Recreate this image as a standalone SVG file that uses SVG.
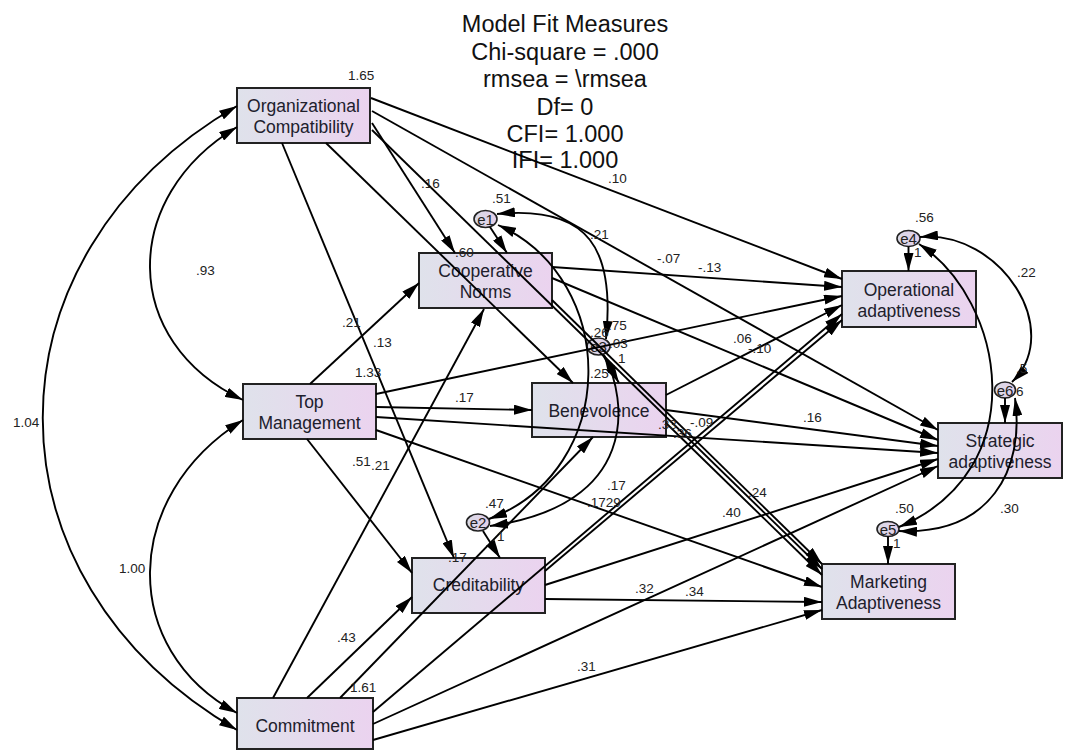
<svg xmlns="http://www.w3.org/2000/svg" width="1065" height="751" viewBox="0 0 1065 751">
  <defs>
    <linearGradient id="fillBox" x1="0" y1="0" x2="1" y2="0">
      <stop offset="0" stop-color="#dfe2eb"/>
      <stop offset="1" stop-color="#ebd3ef"/>
    </linearGradient>
    <linearGradient id="fillErr" x1="0" y1="0" x2="1" y2="0">
      <stop offset="0" stop-color="#d9dae6"/>
      <stop offset="1" stop-color="#e3cfe9"/>
    </linearGradient>
    <marker id="ah" viewBox="0 0 18 10" refX="18" refY="5" markerWidth="18" markerHeight="10" markerUnits="userSpaceOnUse" orient="auto-start-reverse">
      <path d="M0,0 L18,5 L0,10 z" fill="#000"/>
    </marker>
    <style>
      .box { fill: url(#fillBox); stroke: #222; stroke-width: 2; }
      .err { fill: url(#fillErr); stroke: #222; stroke-width: 1.6; }
      .name { font-family: "Liberation Sans", Arial, sans-serif; font-size: 17.5px; fill: #20202c; text-anchor: middle; }
      .ename { font-family: "Liberation Sans", Arial, sans-serif; font-size: 15px; fill: #222; text-anchor: middle; }
      .num { font-family: "Liberation Sans", Arial, sans-serif; font-size: 13.5px; fill: #222; }
      .title { font-family: "Liberation Sans", Arial, sans-serif; font-size: 23.5px; fill: #111; text-anchor: middle; }
      .p { stroke: #000; stroke-width: 1.9; fill: none; marker-end: url(#ah); }
      .c { stroke: #000; stroke-width: 1.9; fill: none; marker-start: url(#ah); marker-end: url(#ah); }
    </style>
  </defs>

  <rect width="1065" height="751" fill="#fff"/>

  <!-- fit summary -->
  <g id="fit-summary">
    <text class="title" x="565" y="32">Model Fit Measures</text>
    <text class="title" x="565" y="60">Chi-square = .000</text>
    <text class="title" x="565" y="87">rmsea = \rmsea</text>
    <text class="title" x="565" y="115">Df= 0</text>
    <text class="title" x="565" y="142">CFI= 1.000</text>
    <text class="title" x="565" y="168">IFI= 1.000</text>
  </g>

  <!-- observed variables -->
  <g id="org-compat">
    <rect class="box" x="237" y="88" width="133" height="55"/>
    <text class="name" x="303.5" y="112">Organizational</text>
    <text class="name" x="303.5" y="133">Compatibility</text>
  </g>
  <g id="coop-norms">
    <rect class="box" x="419" y="253" width="133" height="55"/>
    <text class="name" x="485.5" y="277">Cooperative</text>
    <text class="name" x="485.5" y="298">Norms</text>
  </g>
  <g id="top-mgmt">
    <rect class="box" x="243" y="384" width="133" height="55"/>
    <text class="name" x="309.5" y="408">Top</text>
    <text class="name" x="309.5" y="429">Management</text>
  </g>
  <g id="benevolence">
    <rect class="box" x="532" y="383" width="134" height="54"/>
    <text class="name" x="599" y="417">Benevolence</text>
  </g>
  <g id="creditability">
    <rect class="box" x="412" y="558" width="133" height="55"/>
    <text class="name" x="478.5" y="591">Creditability</text>
  </g>
  <g id="commitment">
    <rect class="box" x="237" y="698" width="136" height="51"/>
    <text class="name" x="305" y="732">Commitment</text>
  </g>
  <g id="operational">
    <rect class="box" x="842" y="271" width="134" height="56"/>
    <text class="name" x="909" y="296">Operational</text>
    <text class="name" x="909" y="317">adaptiveness</text>
  </g>
  <g id="strategic">
    <rect class="box" x="938" y="423" width="124" height="55"/>
    <text class="name" x="1000" y="447">Strategic</text>
    <text class="name" x="1000" y="468">adaptiveness</text>
  </g>
  <g id="marketing">
    <rect class="box" x="822" y="564" width="133" height="55"/>
    <text class="name" x="888.5" y="588">Marketing</text>
    <text class="name" x="888.5" y="609">Adaptiveness</text>
  </g>

  <!-- error terms -->
  <g id="e1">
    <ellipse class="err" cx="485.5" cy="219" rx="11.5" ry="8.5"/>
    <text class="ename" x="485.5" y="224.5">e1</text>
  </g>
  <g id="e3">
    <ellipse class="err" cx="598.5" cy="346.5" rx="11.5" ry="8.5"/>
    <text class="ename" x="598.5" y="352">e3</text>
  </g>
  <g id="e2">
    <ellipse class="err" cx="478" cy="522.5" rx="11.5" ry="8.5"/>
    <text class="ename" x="478" y="528">e2</text>
  </g>
  <g id="e4">
    <ellipse class="err" cx="908.5" cy="238.5" rx="11.5" ry="8"/>
    <text class="ename" x="908.5" y="244">e4</text>
  </g>
  <g id="e6">
    <ellipse class="err" cx="1005" cy="390" rx="10.5" ry="8"/>
    <text class="ename" x="1005" y="395.5">e6</text>
  </g>
  <g id="e5">
    <ellipse class="err" cx="888" cy="529" rx="11" ry="7.5"/>
    <text class="ename" x="888" y="534.5">e5</text>
  </g>

  <!-- paths and covariances -->
  <g id="connectors">
    <!-- from Organizational Compatibility -->
    <line class="p" x1="372" y1="123" x2="455" y2="253"/>
    <line class="p" x1="326" y1="143" x2="573" y2="383"/>
    <line class="p" x1="282" y1="143" x2="454" y2="558"/>
    <line class="p" x1="371" y1="98" x2="842" y2="279"/>
    <line class="p" x1="372" y1="111" x2="938" y2="430"/>
    <line class="p" x1="372" y1="130" x2="822" y2="569"/>
    <!-- from Top Management -->
    <line class="p" x1="310" y1="384" x2="419" y2="283"/>
    <line class="p" x1="376" y1="407" x2="532" y2="410"/>
    <line class="p" x1="307" y1="439" x2="412" y2="573"/>
    <line class="p" x1="376" y1="394" x2="842" y2="296"/>
    <line class="p" x1="376" y1="417" x2="938" y2="453"/>
    <line class="p" x1="376" y1="430" x2="822" y2="587"/>
    <!-- from Commitment -->
    <line class="p" x1="273" y1="698" x2="484" y2="309"/>
    <line class="p" x1="340" y1="698" x2="593" y2="437"/>
    <line class="p" x1="307" y1="698" x2="412" y2="597"/>
    <line class="p" x1="373" y1="712" x2="842" y2="314"/>
    <line class="p" x1="373" y1="724" x2="938" y2="466"/>
    <line class="p" x1="373" y1="740" x2="822" y2="610"/>
    <!-- from Cooperative Norms -->
    <line class="p" x1="552" y1="267" x2="842" y2="287"/>
    <line class="p" x1="552" y1="278" x2="938" y2="440"/>
    <line class="p" x1="552" y1="300" x2="822" y2="564"/>
    <!-- from Benevolence -->
    <line class="p" x1="666" y1="395" x2="842" y2="305"/>
    <line class="p" x1="666" y1="410" x2="938" y2="446"/>
    <line class="p" x1="666" y1="423" x2="822" y2="575"/>
    <!-- from Creditability -->
    <line class="p" x1="545" y1="571" x2="842" y2="320"/>
    <line class="p" x1="545" y1="585" x2="938" y2="459"/>
    <line class="p" x1="545" y1="599" x2="822" y2="602"/>
    <!-- error terms into their variables -->
    <line class="p" x1="490" y1="227" x2="507" y2="253"/>
    <line class="p" x1="603" y1="355" x2="619" y2="383"/>
    <line class="p" x1="483" y1="531" x2="500" y2="558"/>
    <line class="p" x1="908.5" y1="246.5" x2="908.5" y2="271"/>
    <line class="p" x1="1005" y1="398" x2="1005" y2="423"/>
    <line class="p" x1="888" y1="536.5" x2="888" y2="564"/>
    <!-- exogenous covariances -->
    <path class="c" d="M237,106 C-22,256 -22,580 237,730"/>
    <path class="c" d="M237,127 C120,197 120,342 243,400"/>
    <path class="c" d="M243,420 C120,497 120,650 237,713"/>
    <!-- residual covariances -->
    <path class="c" d="M497,214 C590,205 615,250 606,339"/>
    <path class="c" d="M498,225 C620,280 620,470 489,519"/>
    <path class="c" d="M604,355 C628,400 640,505 490,526"/>
    <path class="c" d="M920,237 C1000,230 1065,330 1012,382"/>
    <path class="c" d="M919,244 C1005,300 1035,470 899,527"/>
    <path class="c" d="M1015,398 C1025,470 990,535 899,531"/>
  </g>

  <!-- estimates -->
  <g id="estimates">
    <text class="num" x="348" y="80">1.65</text>
    <text class="num" x="421" y="188">.16</text>
    <text class="num" x="608" y="183">.10</text>
    <text class="num" x="492" y="203">.51</text>
    <text class="num" x="590" y="239">.21</text>
    <text class="num" x="657" y="263">-.07</text>
    <text class="num" x="698" y="272">-.13</text>
    <text class="num" x="455" y="257">.60</text>
    <text class="num" x="196" y="275">.93</text>
    <text class="num" x="342" y="327">.21</text>
    <text class="num" x="373" y="347">.13</text>
    <text class="num" x="355" y="377">1.33</text>
    <text class="num" x="455" y="402">.17</text>
    <text class="num" x="590" y="337">.26</text>
    <text class="num" x="608" y="330">.75</text>
    <text class="num" x="609" y="348">.03</text>
    <text class="num" x="618" y="363">1</text>
    <text class="num" x="590" y="378">.25</text>
    <text class="num" x="733" y="343">.06</text>
    <text class="num" x="748" y="353">-.10</text>
    <text class="num" x="803" y="422">.16</text>
    <text class="num" x="658" y="429">.33</text>
    <text class="num" x="673" y="438">.36</text>
    <text class="num" x="690" y="427">-.09</text>
    <text class="num" x="607" y="490">.17</text>
    <text class="num" x="587" y="507">.1729</text>
    <text class="num" x="748" y="497">.24</text>
    <text class="num" x="485" y="508">.47</text>
    <text class="num" x="497" y="541">1</text>
    <text class="num" x="448" y="562">.17</text>
    <text class="num" x="722" y="517">.40</text>
    <text class="num" x="635" y="593">.32</text>
    <text class="num" x="685" y="596">.34</text>
    <text class="num" x="352" y="466">.51</text>
    <text class="num" x="371" y="470">.21</text>
    <text class="num" x="337" y="642">.43</text>
    <text class="num" x="350" y="692">1.61</text>
    <text class="num" x="577" y="671">.31</text>
    <text class="num" x="119" y="573">1.00</text>
    <text class="num" x="13" y="427">1.04</text>
    <text class="num" x="915" y="222">.56</text>
    <text class="num" x="914" y="257">1</text>
    <text class="num" x="1017" y="277">.22</text>
    <text class="num" x="1016" y="373">.5</text>
    <text class="num" x="1016" y="396">6</text>
    <text class="num" x="895" y="513">.50</text>
    <text class="num" x="1000" y="513">.30</text>
    <text class="num" x="893" y="548">1</text>
  </g>
</svg>
